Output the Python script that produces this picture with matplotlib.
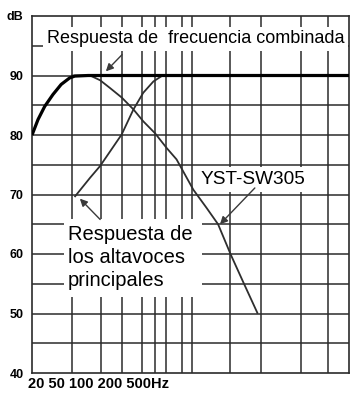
import numpy as np
import matplotlib.pyplot as plt
from matplotlib.patches import Rectangle

# curve data (x in chart units 0-100 across the grid, y in dB)
comb_x = [0, 0.3, 1.9, 4.0, 6.6, 9.2, 11.9, 13.5, 17.7, 100]
comb_y = [80, 80.4, 82.6, 84.8, 86.8, 88.5, 89.6, 89.9, 90, 90]

sub_x = [12.6, 18.3, 21.5, 24.6, 28.3, 32.0, 35.1, 38.8, 42.5, 45.6, 50.9, 55.0, 58.7, 62.7, 66.7, 71.1]
sub_y = [90, 90.0, 89.2, 87.9, 86.3, 84.3, 82.3, 80.3, 77.8, 75.9, 70.8, 67.8, 65.0, 59.9, 55.2, 50.1]

main_x = [13.6, 18.3, 21.5, 28.3, 32.0, 35.1, 38.3, 40.9, 42.3]
main_y = [69.7, 72.8, 74.8, 80.1, 84.3, 87.1, 89.0, 89.9, 90]

vgrid = [12.6, 21.8, 28.4, 34.7, 38.8, 42.3, 47.3, 50.5, 62.5, 72.2, 84.9, 93.4]
hgrid = [45, 50, 55, 60, 65, 70, 75, 80, 85, 90, 95]
ytick_vals = [40, 50, 60, 70, 80, 90, 100]
ytick_labels = ['40', '50', '60', '70', '80', '90', 'dB']
main_label = ['Respuesta de', 'los altavoces', 'principales']

grid_col = '#2b2b2b'
curve_col = '#2e2e2e'

fig = plt.figure(figsize=(3.51, 3.93), dpi=100)
ax = fig.add_axes([32 / 351, 20 / 393, 317 / 351, 357 / 393])
ax.set_xlim(0, 100)
ax.set_ylim(40, 100)

for v in vgrid:
    ax.axvline(v, color=grid_col, lw=1.1, zorder=1)
for h in hgrid:
    ax.axhline(h, color=grid_col, lw=1.1, zorder=1)

ax.plot(sub_x, sub_y, color=curve_col, lw=1.3, zorder=4)
ax.plot(main_x, main_y, color=curve_col, lw=1.3, zorder=4)
ax.plot(comb_x, comb_y, color='black', lw=2.3, zorder=5, solid_capstyle='butt')

ax.set_xticks([])
ax.set_yticks(ytick_vals)
ax.set_yticklabels(ytick_labels, fontfamily='Liberation Sans', fontweight='bold', fontsize=9)
ax.tick_params(axis='y', length=0, pad=6)
for s in ax.spines.values():
    s.set_color(grid_col)
    s.set_linewidth(1.2)

box = dict(facecolor='white', edgecolor='none', boxstyle='square,pad=0.2')
ax.text(4.7, 95.4, 'Respuesta de  frecuencia combinada', fontfamily='Liberation Sans',
        fontsize=13, va='baseline', ha='left', bbox=box, zorder=3)

# white panel behind the main speakers label
ax.add_patch(Rectangle((10.1, 52.7), 43.5, 13.1, facecolor='white', edgecolor='none', zorder=2))
for i, line in enumerate(main_label):
    ax.text(11.4, 62.3 - 3.87 * i, line, fontfamily='Liberation Sans', fontsize=14.5,
            va='baseline', ha='left', zorder=3)

ax.text(53.3, 71.8, 'YST-SW305', fontfamily='Liberation Sans', fontsize=13.7,
        va='baseline', ha='left', bbox=box, zorder=3)

arrow = dict(arrowstyle='-|>', color='#3a3a3a', lw=1.0, mutation_scale=11, shrinkA=0, shrinkB=0)
ax.annotate('', xy=(23.3, 90.7), xytext=(28.4, 93.5), arrowprops=arrow, zorder=6)
ax.annotate('', xy=(15.1, 69.3), xytext=(21.5, 65.8), arrowprops=arrow, zorder=6)
ax.annotate('', xy=(59.3, 65.0), xytext=(70.3, 71.1), arrowprops=arrow, zorder=6)

fig.text(28 / 351, 1 - 384 / 393, '20 50 100 200 500Hz', fontfamily='Liberation Sans',
         fontweight='bold', fontsize=10.5, va='center', ha='left')

fig.savefig('out.png', dpi=100)
